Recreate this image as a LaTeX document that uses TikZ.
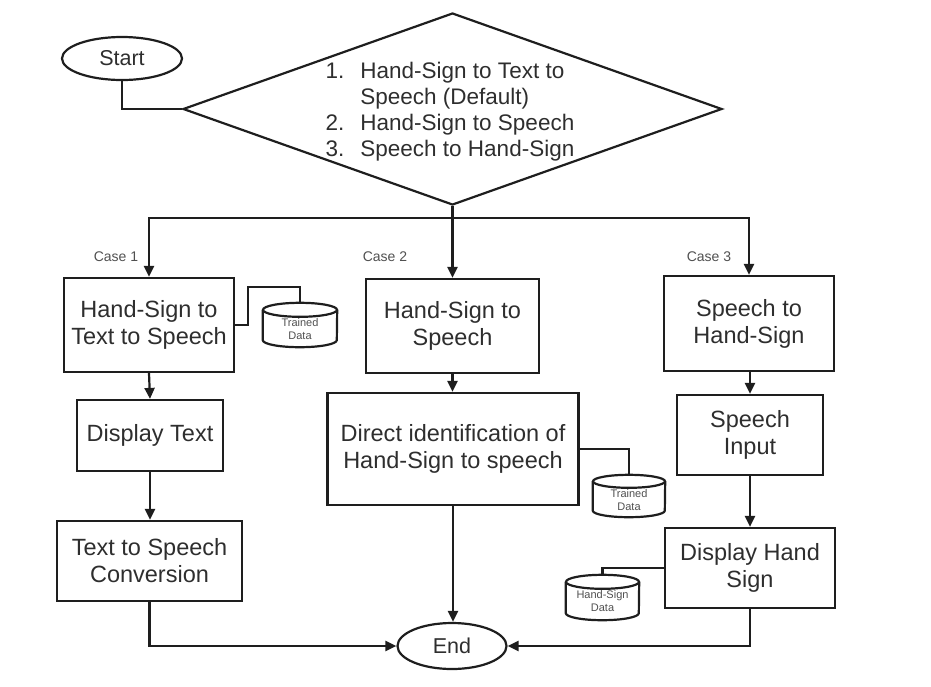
\documentclass[tikz,border=0pt]{standalone}
\usepackage{fontspec}
\setmainfont{Liberation Sans}
\usetikzlibrary{arrows.meta,shapes.geometric,calc}
\definecolor{ink}{HTML}{1E1E1E}
\definecolor{txt}{HTML}{2E2E2E}
\definecolor{lbl}{HTML}{505050}
\newcommand\drawcyl[3]{%
  \draw[ln] ([yshift=-#3]#1.north west) -- ([yshift=#3]#1.south west)
     arc[start angle=180,end angle=360,x radius=#2,y radius=#3]
     -- ([yshift=-#3]#1.north east);
  \draw[ln] ([yshift=-#3]#1.north) ellipse[x radius=#2,y radius=#3];
}
\begin{document}
\begin{tikzpicture}[x=1pt,y=-1pt,
  ln/.style={draw=ink,line width=2.2pt},
  arr/.style={ln,-{Triangle[length=11pt,width=10pt]}},
  box/.style={ln,rectangle,align=center,inner sep=0pt,text=txt,
    font=\fontsize{23.5}{27}\selectfont},
  term/.style={ln,ellipse,inner sep=0pt,text=txt,font=\fontsize{21.5}{24}\selectfont},
  cylbox/.style={inner sep=0pt},
  cyltext/.style={align=center,text=lbl,inner sep=0pt,font=\fontsize{11}{13}\selectfont},
  caselbl/.style={text=lbl,inner sep=0pt,font=\fontsize{14}{15}\selectfont}]
\useasboundingbox (0,0) rectangle (931,686);
% terminals
\node[term,minimum width=120pt,minimum height=43pt] (start) at (122,58.5) {Start};
\node[term,minimum width=109pt,minimum height=46pt] (end) at (452,646) {End};
% decision
\node[ln,diamond,minimum width=539pt,minimum height=192pt,inner sep=0pt] (dia) at (452.5,109) {};
\node[text=txt,inner sep=0pt,font=\fontsize{22.5}{26}\selectfont] (diatext) at (450,112)
  {\begin{tabular}{@{}l@{\hspace{16pt}}l@{}}1. & Hand-Sign to Text to\\ & Speech (Default)\\ 2. & Hand-Sign to Speech\\ 3. & Speech to Hand-Sign\end{tabular}};
% boxes
\node[box,minimum width=170pt,minimum height=94pt] (b1) at (149,325) {Hand-Sign to\\Text to Speech};
\node[box,minimum width=173pt,minimum height=94pt] (b2) at (452.5,326) {Hand-Sign to\\Speech};
\node[box,minimum width=170pt,minimum height=95pt] (b3) at (749,323.5) {Speech to\\Hand-Sign};
\node[box,minimum width=146pt,minimum height=71pt] (disp) at (150,435.5) {Display Text};
\node[box,minimum width=185pt,minimum height=80pt] (tts) at (149.5,561) {Text to Speech\\Conversion};
\node[box,minimum width=251pt,minimum height=112pt] (dir) at (453,449) {Direct identification of\\Hand-Sign to speech};
\node[box,minimum width=146pt,minimum height=80pt] (sin) at (750,435) {Speech\\Input};
\node[box,minimum width=170pt,minimum height=80pt] (dhs) at (750,568) {Display Hand\\Sign};
% case labels
\node[caselbl] (c1) at (116,257) {Case 1};
\node[caselbl] (c2) at (385,257) {Case 2};
\node[caselbl] (c3) at (709,257) {Case 3};
% cylinders
\node[cylbox,minimum width=74pt,minimum height=44pt] (t1) at (300,325) {};
\drawcyl{t1}{37pt}{7pt}
\node[cyltext] (t1txt) at ([yshift=-4pt]t1.center) {Trained\\Data};
\node[cylbox,minimum width=72pt,minimum height=42pt] (t2) at (629,496) {};
\drawcyl{t2}{36pt}{6.5pt}
\node[cyltext] (t2txt) at ([yshift=-4pt]t2.center) {Trained\\Data};
\node[cylbox,minimum width=73pt,minimum height=45pt] (t3) at (602.5,597.5) {};
\drawcyl{t3}{36.5pt}{7pt}
\node[cyltext] (t3txt) at ([yshift=-4pt]t3.center) {Hand-Sign\\Data};
% connectors
\draw[ln] (start.south) |- (dia.west);
\coordinate (split) at (452.5,218);
\draw[ln] (dia.south) -- (split);
\draw[arr] (split) -| (b1.north);
\draw[arr] (split) -- (b2.north);
\draw[arr] (split) -| (b3.north);
\draw[arr] (b1.south) -- (disp.north);
\draw[arr] (disp.south) -- (disp.south |- tts.north);
\draw[arr] (b2.south) -- (b2.south |- dir.north);
\draw[arr] (b3.south) -- (b3.south -| sin.north) -- (sin.north);
\draw[arr] (sin.south) -- (dhs.north);
\coordinate (k1) at (248,287);
\draw[ln] (b1.east) -| (k1) -| (t1.north);
\draw[ln] (dir.east) -| (t2.north);
\draw[ln] (dhs.west) -| (t3.north);
\draw[arr] (tts.south) |- (end.west);
\draw[arr] (dir.south) -- (dir.south |- end.north);
\draw[arr] (dhs.south) |- (end.east);
\end{tikzpicture}
\end{document}
